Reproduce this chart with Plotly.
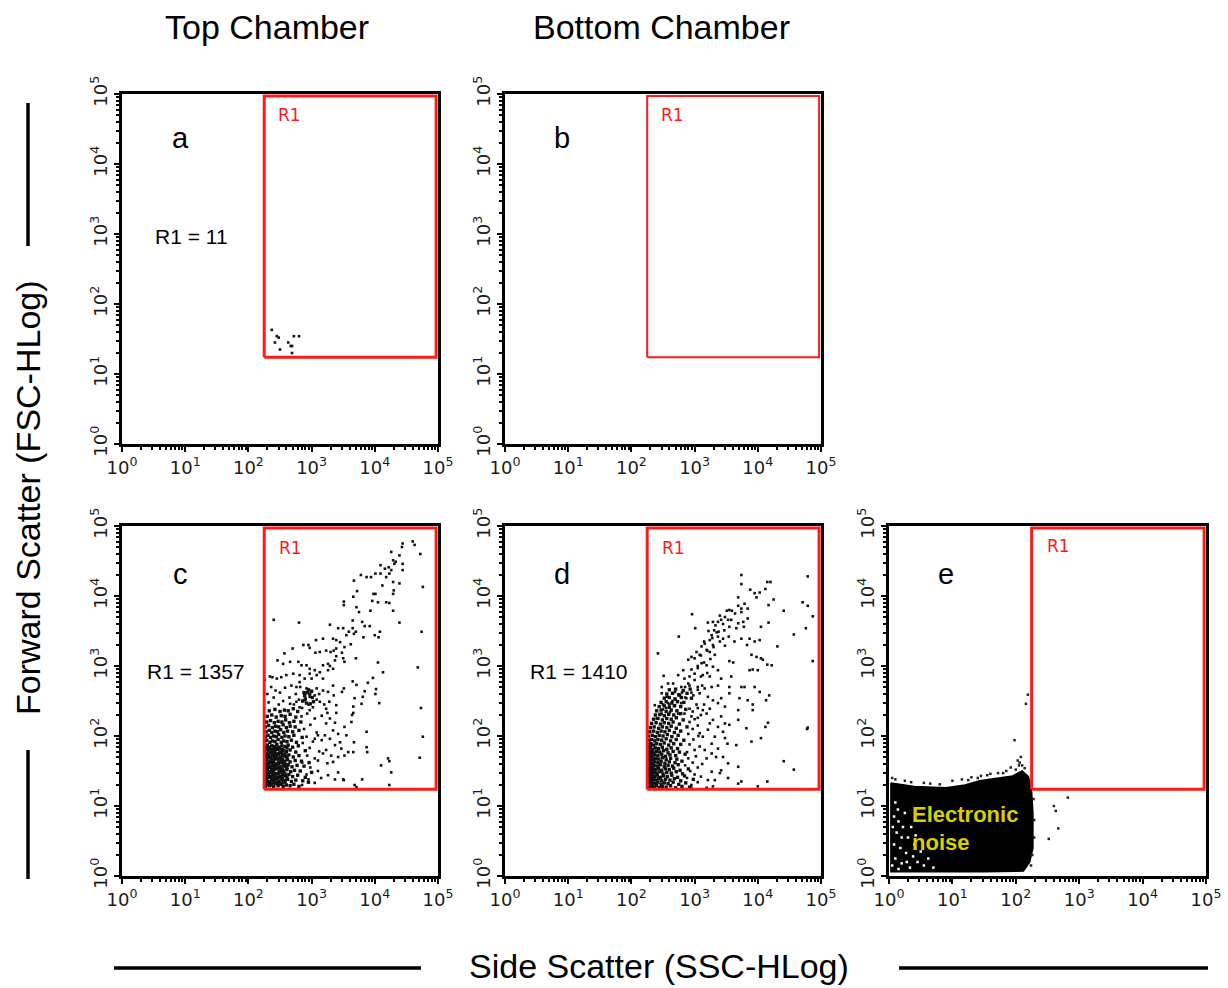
import plotly.graph_objects as go

W, H = 1228, 988

# ---------------- data (all values are log10 of the measured channel) ----------------
DECADES = [0, 1, 2, 3, 4, 5]
TICK_TEXT = ["10<sup>%d</sup>" % d for d in DECADES]
GATE_X = [2.25, 4.97]          # R1 gate, SSC
GATE_Y = [1.24, 4.97]          # R1 gate, FSC
PANELS = ["a", "b", "c", "d", "e"]
R1_COUNTS = {"a": "11", "c": "1357", "d": "1410"}
COL_TITLES = ["Top Chamber", "Bottom Chamber"]
Y_TITLE = "Forward Scatter (FSC-HLog)"
X_TITLE = "Side Scatter (SSC-HLog)"
NOISE_LABEL = ["Electronic", "noise"]

a_pts = [(2.37, 1.63), (2.45, 1.54), (2.48, 1.52), (2.42, 1.45), (2.50, 1.35), (2.63, 1.45),
         (2.67, 1.40), (2.69, 1.40), (2.69, 1.30), (2.72, 1.54), (2.80, 1.54)]

b_pts = []

c_sparse = [
    (4.60, 4.78), (4.63, 4.73), (4.44, 4.75), (4.43, 4.70), (4.26, 4.63), (4.39, 4.58), (4.72, 4.60),
    (4.33, 4.49), (4.31, 4.46), (4.29, 4.51), (4.44, 4.46), (4.22, 4.41), (4.09, 4.44), (4.16, 4.39),
    (4.26, 4.37), (4.23, 4.32), (4.44, 4.37), (4.01, 4.32), (3.78, 4.30), (3.87, 4.27), (3.94, 4.27),
    (4.09, 4.32), (4.18, 4.27), (4.29, 4.20), (4.39, 4.18), (4.12, 4.15), (3.67, 4.22), (4.76, 4.13),
    (3.72, 4.07), (4.01, 4.03), (3.98, 4.03), (4.30, 4.08), (4.29, 4.03), (3.51, 3.92), (3.96, 3.93),
    (4.05, 3.91), (4.18, 3.91), (4.23, 3.90), (3.51, 3.87), (3.66, 3.99), (3.93, 3.79), (4.29, 3.79),
    (3.71, 3.84), (3.75, 3.77), (2.40, 3.66), (2.80, 3.62), (3.65, 3.65), (3.80, 3.63), (3.29, 3.59),
    (4.39, 3.62), (3.42, 3.54), (3.50, 3.54), (3.65, 3.54), (3.84, 3.57), (3.92, 3.57), (4.74, 3.49),
    (4.08, 3.49), (4.00, 3.44), (4.06, 3.41), (3.34, 3.39), (3.39, 3.37), (3.55, 3.44), (3.59, 3.49),
    (3.70, 3.49), (3.67, 3.46), (3.07, 3.37), (3.18, 3.39), (3.45, 3.34), (3.82, 3.41), (2.95, 3.30),
    (2.97, 3.26), (2.70, 3.25), (2.87, 3.30), (3.23, 3.22), (3.35, 3.22), (3.39, 3.25), (3.52, 3.27),
    (3.62, 3.31), (3.06, 3.19), (3.13, 3.20), (3.30, 3.20), (3.48, 3.19), (2.57, 3.18), (3.39, 3.14),
    (3.50, 3.11), (3.52, 3.06), (3.70, 3.11), (2.46, 3.08), (2.66, 3.06), (2.79, 3.06), (3.37, 3.08),
    (3.26, 3.03), (2.55, 3.03), (2.84, 3.01), (2.92, 3.01), (3.18, 3.01), (3.29, 3.00), (4.68, 2.98),
    (4.05, 3.05), (4.13, 2.91), (2.97, 2.96), (3.05, 2.94), (3.13, 2.91), (3.26, 2.94), (3.34, 2.96),
    (2.38, 2.84), (2.45, 2.82), (2.34, 2.85), (2.52, 2.84), (2.60, 2.87), (2.71, 2.89), (2.81, 2.87),
    (2.97, 2.89), (3.08, 2.87), (3.97, 2.83), (2.68, 2.72), (2.81, 2.77), (2.89, 2.82), (3.00, 2.82),
    (3.18, 2.82), (3.34, 2.72), (3.71, 2.73), (3.65, 2.78), (3.89, 2.76), (4.02, 2.67), (3.84, 2.64),
    (4.01, 2.60), (2.43, 2.65), (2.58, 2.69), (2.76, 2.70), (2.92, 2.68), (3.08, 2.68), (3.18, 2.65),
    (3.26, 2.63), (3.48, 2.63), (3.05, 2.58), (2.97, 2.56), (2.89, 2.51), (3.13, 2.49), (3.28, 2.49),
    (3.35, 2.58), (3.51, 2.68), (3.81, 2.56), (3.79, 2.46), (4.07, 2.47), (3.68, 2.54), (3.66, 2.42),
    (3.39, 2.44), (4.73, 2.40), (2.66, 2.46), (2.76, 2.49), (2.81, 2.41), (3.02, 2.41), (3.23, 2.39),
    (2.97, 2.37), (3.66, 2.33), (3.64, 2.30), (3.39, 2.33), (3.16, 2.29), (3.29, 2.25), (3.37, 2.19),
    (3.63, 2.20), (3.23, 2.18), (3.52, 2.13), (3.87, 2.06), (3.34, 2.08), (3.42, 2.03), (3.21, 2.01),
    (3.10, 2.01), (3.05, 1.96), (3.16, 1.94), (3.29, 1.96), (3.45, 1.91), (3.67, 1.91), (3.55, 2.01),
    (4.76, 1.99), (3.87, 1.84), (3.88, 1.77), (3.37, 1.87), (3.23, 1.80), (3.47, 1.82), (3.58, 1.77),
    (3.66, 1.77), (3.31, 1.72), (3.18, 1.75), (3.42, 1.70), (3.52, 1.72), (4.71, 1.69), (4.21, 1.68),
    (4.23, 1.64), (3.34, 1.63), (3.25, 1.61), (3.10, 1.65), (4.10, 1.58), (4.26, 1.48), (3.42, 1.48),
    (3.50, 1.38), (3.37, 1.38), (3.26, 1.44), (3.80, 1.38), (3.51, 1.37), (3.68, 1.30), (4.23, 1.30),
    (3.71, 1.27),
    (2.85, 1.30), (2.95, 1.38), (3.05, 1.33), (2.92, 1.45), (3.10, 1.50), (2.98, 1.55), (3.15, 1.40),
    (2.85, 1.62), (3.05, 1.68), (2.93, 1.72), (3.12, 1.78), (2.97, 1.83), (2.86, 1.90), (3.02, 1.92),
    (2.92, 1.99), (3.08, 2.05), (2.88, 2.10), (2.98, 2.16), (2.84, 2.28), (2.93, 2.32), (3.05, 2.25),
    (2.72, 2.45), (2.80, 2.52), (2.65, 2.55), (2.75, 2.60), (2.82, 2.70), (3.08, 2.52), (3.12, 2.60),
    (2.55, 2.50), (2.48, 2.45), (2.40, 2.55), (2.32, 2.48), (2.30, 2.60), (2.36, 2.70), (2.26, 2.80),
    (2.50, 2.62), (3.20, 2.45), (3.25, 2.33), (2.85, 2.40), (2.95, 2.45)]

c_core = [
    (2.27, 1.28), (2.30, 1.31), (2.33, 1.29), (2.36, 1.30), (2.40, 1.28), (2.43, 1.32), (2.47, 1.29),
    (2.51, 1.31), (2.55, 1.28), (2.60, 1.30), (2.66, 1.29), (2.72, 1.31), (2.80, 1.28),
    (2.26, 1.36), (2.29, 1.38), (2.34, 1.35), (2.37, 1.37), (2.41, 1.36), (2.45, 1.39), (2.48, 1.35),
    (2.53, 1.37), (2.57, 1.36), (2.62, 1.38), (2.68, 1.35), (2.75, 1.37), (2.86, 1.36), (2.95, 1.34),
    (2.27, 1.43), (2.31, 1.45), (2.35, 1.42), (2.38, 1.44), (2.42, 1.43), (2.46, 1.46), (2.50, 1.42),
    (2.54, 1.44), (2.59, 1.43), (2.64, 1.45), (2.70, 1.42), (2.78, 1.44), (2.90, 1.41),
    (2.26, 1.50), (2.30, 1.52), (2.33, 1.49), (2.37, 1.51), (2.40, 1.50), (2.44, 1.53), (2.49, 1.49),
    (2.52, 1.51), (2.56, 1.50), (2.61, 1.52), (2.67, 1.49), (2.73, 1.51), (2.82, 1.50), (3.00, 1.48),
    (2.27, 1.57), (2.31, 1.59), (2.34, 1.56), (2.38, 1.58), (2.42, 1.57), (2.46, 1.60), (2.50, 1.56),
    (2.55, 1.58), (2.58, 1.57), (2.63, 1.59), (2.69, 1.56), (2.77, 1.58), (2.88, 1.57),
    (2.26, 1.64), (2.29, 1.66), (2.33, 1.63), (2.36, 1.65), (2.40, 1.64), (2.45, 1.67), (2.48, 1.63),
    (2.52, 1.65), (2.57, 1.64), (2.62, 1.66), (2.66, 1.63), (2.74, 1.65), (2.84, 1.64), (2.96, 1.62),
    (2.27, 1.71), (2.30, 1.73), (2.35, 1.70), (2.38, 1.72), (2.43, 1.71), (2.47, 1.74), (2.51, 1.70),
    (2.54, 1.72), (2.59, 1.71), (2.64, 1.73), (2.71, 1.70), (2.80, 1.72),
    (2.26, 1.78), (2.31, 1.80), (2.34, 1.77), (2.39, 1.79), (2.42, 1.78), (2.46, 1.81), (2.50, 1.77),
    (2.55, 1.79), (2.60, 1.78), (2.66, 1.80), (2.75, 1.77), (2.90, 1.79),
    (2.27, 1.85), (2.30, 1.87), (2.33, 1.84), (2.37, 1.86), (2.41, 1.85), (2.45, 1.88), (2.49, 1.84),
    (2.53, 1.86), (2.58, 1.85), (2.63, 1.87), (2.70, 1.84), (2.79, 1.86),
    (2.26, 1.92), (2.29, 1.94), (2.34, 1.91), (2.38, 1.93), (2.42, 1.92), (2.47, 1.95), (2.52, 1.91),
    (2.56, 1.93), (2.61, 1.92), (2.68, 1.94), (2.76, 1.91),
    (2.27, 1.99), (2.31, 2.01), (2.35, 1.98), (2.40, 2.00), (2.44, 1.99), (2.48, 2.02), (2.53, 1.98),
    (2.58, 2.00), (2.64, 1.99), (2.72, 2.01), (2.85, 1.98),
    (2.28, 2.06), (2.33, 2.08), (2.37, 2.05), (2.42, 2.07), (2.46, 2.06), (2.51, 2.09), (2.56, 2.05),
    (2.62, 2.07), (2.70, 2.06), (2.80, 2.08),
    (2.27, 2.13), (2.32, 2.15), (2.38, 2.12), (2.43, 2.14), (2.48, 2.13), (2.55, 2.16), (2.60, 2.12),
    (2.66, 2.14), (2.74, 2.13),
    (2.29, 2.20), (2.35, 2.22), (2.41, 2.19), (2.47, 2.21), (2.53, 2.20), (2.59, 2.23), (2.65, 2.19),
    (2.72, 2.21), (2.83, 2.20),
    (2.30, 2.28), (2.37, 2.30), (2.44, 2.27), (2.52, 2.29), (2.58, 2.28), (2.66, 2.31), (2.75, 2.27),
    (2.33, 2.36), (2.42, 2.38), (2.50, 2.35), (2.57, 2.37), (2.63, 2.36), (2.71, 2.39), (2.78, 2.35),
    (2.86, 2.50), (2.89, 2.58), (2.93, 2.62), (2.97, 2.60), (3.01, 2.55), (3.03, 2.49), (2.98, 2.46),
    (2.92, 2.47), (2.88, 2.62), (2.95, 2.66), (3.00, 2.64), (2.90, 2.53),
    (2.28, 1.33), (2.32, 1.34), (2.36, 1.32), (2.39, 1.33), (2.44, 1.34), (2.48, 1.33), (2.53, 1.32), (2.58, 1.34),
    (2.29, 1.40), (2.33, 1.41), (2.37, 1.39), (2.41, 1.40), (2.45, 1.41), (2.49, 1.40), (2.54, 1.39), (2.61, 1.41),
    (2.28, 1.47), (2.32, 1.46), (2.36, 1.48), (2.40, 1.47), (2.44, 1.46), (2.48, 1.47), (2.53, 1.48), (2.58, 1.46),
    (2.29, 1.54), (2.33, 1.55), (2.37, 1.53), (2.41, 1.54), (2.45, 1.55), (2.49, 1.54), (2.54, 1.53), (2.61, 1.55),
    (2.28, 1.61), (2.32, 1.60), (2.36, 1.62), (2.40, 1.61), (2.44, 1.60), (2.48, 1.61), (2.53, 1.62), (2.58, 1.60),
    (2.29, 1.68), (2.33, 1.69), (2.37, 1.67), (2.41, 1.68), (2.45, 1.69), (2.49, 1.68), (2.54, 1.67), (2.61, 1.69),
    (2.28, 1.75), (2.32, 1.74), (2.36, 1.76), (2.40, 1.75), (2.44, 1.74), (2.48, 1.75), (2.53, 1.76), (2.58, 1.74),
    (2.29, 1.82), (2.33, 1.83), (2.37, 1.81), (2.41, 1.82), (2.45, 1.83), (2.49, 1.82), (2.54, 1.81), (2.61, 1.83)]

d_sparse = [
    (3.74, 4.30), (3.74, 4.17), (4.79, 4.28), (4.15, 4.20), (4.20, 4.20), (4.12, 4.10), (3.88, 4.09),
    (3.95, 4.04), (4.03, 4.05), (3.69, 3.98), (3.98, 3.98), (3.79, 3.89), (3.74, 3.82), (3.69, 3.86),
    (3.84, 3.82), (3.51, 3.79), (3.59, 3.79), (3.64, 3.75), (3.74, 3.77), (3.48, 3.70), (3.53, 3.66),
    (3.58, 3.66), (3.42, 3.66), (3.37, 3.63), (3.29, 3.63), (3.21, 3.62), (3.69, 3.61), (3.77, 3.63),
    (3.84, 3.68), (2.96, 3.74), (4.17, 3.87), (4.25, 3.95), (4.41, 3.79), (4.71, 3.91), (4.79, 3.86),
    (4.87, 3.71), (4.17, 3.62), (4.76, 3.54), (4.57, 3.45), (3.01, 3.54), (2.75, 3.42), (3.31, 3.51),
    (3.38, 3.49), (3.47, 3.51), (3.55, 3.56), (3.66, 3.54), (3.78, 3.56), (4.05, 3.56), (3.27, 3.44),
    (3.37, 3.42), (3.45, 3.39), (3.54, 3.42), (3.24, 3.37), (3.16, 3.32), (3.29, 3.30), (3.40, 3.35),
    (3.48, 3.29), (3.63, 3.35), (3.74, 3.39), (3.87, 3.39), (3.95, 3.35), (4.03, 3.37), (3.83, 3.30),
    (4.31, 3.28), (2.42, 3.18), (3.11, 3.28), (3.19, 3.23), (3.03, 3.20), (2.95, 3.13), (2.90, 3.09),
    (3.00, 3.11), (3.08, 3.16), (3.24, 3.20), (3.32, 3.16), (3.55, 3.07), (3.61, 3.05), (3.90, 3.16),
    (3.98, 3.13), (4.05, 3.11), (4.08, 3.09), (4.15, 3.02), (4.22, 3.01), (4.87, 3.07), (3.11, 3.04),
    (3.19, 3.01), (3.29, 2.99), (3.37, 2.94), (3.05, 2.97), (2.82, 2.94), (2.74, 2.87), (2.84, 2.82),
    (2.92, 2.85), (3.00, 2.89), (3.13, 2.87), (3.24, 2.85), (3.42, 2.82), (3.58, 2.85), (3.87, 2.94),
    (3.92, 2.95), (4.00, 2.94), (2.51, 2.86), (2.58, 2.75), (2.66, 2.75), (2.79, 2.70), (2.48, 2.70),
    (2.92, 2.72), (3.05, 2.70), (3.16, 2.68), (3.27, 2.70), (3.37, 2.72), (3.55, 2.70), (3.74, 2.70),
    (3.79, 2.70), (3.95, 2.70), (4.03, 2.63), (4.18, 2.58), (2.48, 2.61), (2.56, 2.56), (2.69, 2.63),
    (2.77, 2.58), (2.87, 2.54), (2.98, 2.58), (3.08, 2.61), (3.21, 2.56), (3.29, 2.51), (3.42, 2.54),
    (3.55, 2.61), (3.71, 2.54), (3.84, 2.51), (3.92, 2.45), (4.13, 2.51), (2.37, 2.44), (2.50, 2.45),
    (2.58, 2.47), (2.69, 2.44), (2.79, 2.47), (2.92, 2.39), (3.03, 2.45), (3.13, 2.37), (3.24, 2.39),
    (3.37, 2.47), (3.48, 2.42), (3.69, 2.37), (3.92, 2.37), (4.16, 2.19), (4.12, 2.13), (4.79, 2.12),
    (4.78, 2.10), (2.48, 2.32), (2.61, 2.34), (2.74, 2.32), (2.84, 2.32), (2.95, 2.28), (3.05, 2.26),
    (3.19, 2.32), (3.29, 2.23), (3.42, 2.28), (3.69, 2.23), (3.82, 2.11), (3.24, 2.18), (3.37, 2.13),
    (3.48, 2.18), (3.55, 2.16), (3.21, 2.09), (3.08, 2.04), (3.13, 1.99), (3.32, 1.99), (3.45, 2.06),
    (3.48, 1.97), (3.52, 1.89), (3.66, 1.87), (3.90, 1.92), (4.05, 1.97), (3.27, 1.89), (3.37, 1.82),
    (3.16, 1.80), (3.27, 1.75), (3.34, 1.70), (3.19, 1.68), (3.45, 1.70), (3.53, 1.61), (3.69, 1.56),
    (3.42, 1.51), (3.27, 1.49), (3.40, 1.47), (3.21, 1.37), (3.32, 1.37), (3.29, 1.28), (3.53, 1.40),
    (3.69, 1.32), (3.74, 1.35), (4.00, 1.28), (4.15, 1.35), (4.41, 1.64), (4.57, 1.52), (3.19, 1.26),
    (2.95, 1.26),
    (2.95, 1.30), (3.05, 1.34), (2.88, 1.40), (3.00, 1.45), (3.10, 1.42), (2.93, 1.50), (3.05, 1.55),
    (2.85, 1.58), (2.97, 1.62), (3.12, 1.60), (2.90, 1.68), (3.02, 1.71), (2.88, 1.77), (3.00, 1.80),
    (3.08, 1.85), (2.92, 1.88), (2.98, 1.95), (3.06, 2.00), (2.90, 2.03), (2.97, 2.10), (3.05, 2.15),
    (2.92, 2.20), (3.00, 2.24), (3.10, 2.30), (2.97, 2.35), (3.05, 2.40), (3.15, 2.45), (2.85, 2.55),
    (2.95, 2.62), (3.05, 2.66), (3.12, 2.72), (2.90, 2.75), (3.00, 2.80), (3.10, 2.85), (3.20, 2.90),
    (2.95, 2.95), (3.05, 3.00), (3.15, 3.05), (3.25, 3.10), (3.10, 3.15), (3.20, 3.22), (3.30, 3.27),
    (3.15, 3.35), (3.28, 3.40), (3.35, 3.48), (3.22, 3.50), (3.33, 3.58), (3.45, 3.60), (3.40, 3.72),
    (3.55, 3.80), (2.80, 2.62), (2.85, 2.70), (2.70, 2.52), (2.75, 2.58), (2.65, 2.50), (2.60, 2.45),
    (2.55, 2.40), (2.50, 2.38), (2.45, 2.30), (2.40, 2.25)]

d_core = [
    (2.26, 1.27), (2.28, 1.29), (2.30, 1.26), (2.33, 1.28), (2.36, 1.27), (2.40, 1.29), (2.44, 1.26),
    (2.49, 1.28), (2.55, 1.27), (2.62, 1.29), (2.70, 1.26), (2.80, 1.28), (2.92, 1.27),
    (2.26, 1.32), (2.29, 1.33), (2.31, 1.31), (2.34, 1.33), (2.38, 1.32), (2.42, 1.34), (2.47, 1.31),
    (2.52, 1.33), (2.58, 1.32), (2.66, 1.34), (2.75, 1.31), (2.86, 1.33),
    (2.27, 1.37), (2.29, 1.38), (2.32, 1.36), (2.35, 1.38), (2.39, 1.37), (2.43, 1.39), (2.48, 1.36),
    (2.54, 1.38), (2.61, 1.37), (2.68, 1.39), (2.78, 1.36), (2.98, 1.38),
    (2.26, 1.42), (2.28, 1.43), (2.31, 1.41), (2.34, 1.43), (2.37, 1.42), (2.41, 1.44), (2.46, 1.41),
    (2.51, 1.43), (2.57, 1.42), (2.64, 1.44), (2.73, 1.41), (2.84, 1.43),
    (2.27, 1.47), (2.30, 1.48), (2.33, 1.46), (2.36, 1.48), (2.40, 1.47), (2.45, 1.49), (2.50, 1.46),
    (2.56, 1.48), (2.63, 1.47), (2.71, 1.49), (2.81, 1.46),
    (2.26, 1.52), (2.28, 1.53), (2.31, 1.51), (2.35, 1.53), (2.39, 1.52), (2.43, 1.54), (2.48, 1.51),
    (2.54, 1.53), (2.60, 1.52), (2.67, 1.54), (2.77, 1.51), (2.90, 1.53),
    (2.27, 1.57), (2.29, 1.58), (2.32, 1.56), (2.36, 1.58), (2.41, 1.57), (2.46, 1.59), (2.52, 1.56),
    (2.58, 1.58), (2.65, 1.57), (2.74, 1.59),
    (2.26, 1.62), (2.30, 1.63), (2.33, 1.61), (2.37, 1.63), (2.42, 1.62), (2.47, 1.64), (2.53, 1.61),
    (2.60, 1.63), (2.69, 1.62), (2.80, 1.64),
    (2.27, 1.67), (2.29, 1.68), (2.34, 1.66), (2.38, 1.68), (2.43, 1.67), (2.49, 1.69), (2.55, 1.66),
    (2.62, 1.68), (2.72, 1.67),
    (2.26, 1.72), (2.30, 1.73), (2.33, 1.71), (2.37, 1.73), (2.42, 1.72), (2.48, 1.74), (2.54, 1.71),
    (2.61, 1.73), (2.70, 1.72), (2.85, 1.74),
    (2.27, 1.77), (2.31, 1.78), (2.35, 1.76), (2.40, 1.78), (2.45, 1.77), (2.51, 1.79), (2.58, 1.76),
    (2.66, 1.78), (2.76, 1.77),
    (2.26, 1.82), (2.29, 1.83), (2.34, 1.81), (2.38, 1.83), (2.43, 1.82), (2.49, 1.84), (2.56, 1.81),
    (2.63, 1.83), (2.73, 1.82),
    (2.27, 1.88), (2.31, 1.89), (2.35, 1.87), (2.40, 1.89), (2.46, 1.88), (2.52, 1.90), (2.59, 1.87),
    (2.67, 1.89), (2.78, 1.88),
    (2.28, 1.94), (2.32, 1.95), (2.37, 1.93), (2.42, 1.95), (2.48, 1.94), (2.55, 1.96), (2.62, 1.93),
    (2.71, 1.95), (2.83, 1.94),
    (2.27, 2.00), (2.33, 2.01), (2.38, 1.99), (2.44, 2.01), (2.50, 2.00), (2.57, 2.02), (2.64, 1.99),
    (2.74, 2.01),
    (2.29, 2.06), (2.35, 2.07), (2.41, 2.05), (2.47, 2.07), (2.53, 2.06), (2.60, 2.08), (2.68, 2.05),
    (2.78, 2.07),
    (2.30, 2.12), (2.36, 2.13), (2.43, 2.11), (2.49, 2.13), (2.56, 2.12), (2.63, 2.14), (2.71, 2.11),
    (2.88, 2.13),
    (2.32, 2.18), (2.39, 2.19), (2.46, 2.17), (2.52, 2.19), (2.59, 2.18), (2.66, 2.20), (2.76, 2.17),
    (2.35, 2.24), (2.42, 2.25), (2.49, 2.23), (2.56, 2.25), (2.63, 2.24), (2.71, 2.26), (2.82, 2.23),
    (2.38, 2.30), (2.45, 2.31), (2.52, 2.29), (2.59, 2.31), (2.67, 2.30), (2.78, 2.32),
    (2.40, 2.36), (2.47, 2.37), (2.55, 2.35), (2.63, 2.37), (2.72, 2.36), (2.86, 2.38),
    (2.44, 2.42), (2.52, 2.43), (2.60, 2.41), (2.68, 2.43), (2.78, 2.42),
    (2.47, 2.48), (2.55, 2.49), (2.64, 2.47), (2.73, 2.49), (2.83, 2.48),
    (2.52, 2.54), (2.60, 2.55), (2.69, 2.53), (2.79, 2.55), (2.95, 2.54),
    (2.56, 2.60), (2.65, 2.61), (2.75, 2.59), (2.88, 2.61),
    (2.60, 2.66), (2.70, 2.67), (2.82, 2.65), (2.93, 2.67),
    (2.27, 1.29), (2.29, 1.30), (2.31, 1.28), (2.27, 1.34), (2.30, 1.35), (2.32, 1.33), (2.28, 1.39),
    (2.30, 1.40), (2.33, 1.39), (2.27, 1.44), (2.29, 1.45), (2.32, 1.44), (2.28, 1.49), (2.31, 1.50),
    (2.33, 1.49), (2.27, 1.54), (2.30, 1.55), (2.32, 1.54), (2.28, 1.59), (2.31, 1.60), (2.27, 1.64),
    (2.30, 1.66), (2.28, 1.70), (2.31, 1.75), (2.28, 1.80), (2.30, 1.85)]

# electronic-noise cloud of panel e: outline of the saturated region, edge events, gaps
e_outline = [(0.03, 1.33), (0.40, 1.28), (0.90, 1.26), (1.20, 1.30), (1.43, 1.36), (1.70, 1.40),
             (1.95, 1.43), (2.10, 1.50), (2.20, 1.42), (2.25, 1.20), (2.27, 0.90), (2.27, 0.40),
             (2.22, 0.20), (2.12, 0.07), (1.50, 0.06), (0.80, 0.06), (0.03, 0.06), (0.03, 1.33)]
e_edge = [(2.19, 2.59), (2.16, 2.46), (1.98, 1.94), (2.03, 1.65), (2.06, 1.62), (2.10, 1.58),
          (2.08, 1.70), (2.82, 1.12), (2.60, 1.00), (2.63, 0.93), (2.67, 0.68), (2.52, 0.53),
          (0.10, 1.38), (0.35, 1.34), (0.55, 1.33), (0.80, 1.31), (1.00, 1.36), (1.15, 1.38),
          (1.30, 1.41), (1.45, 1.43), (1.60, 1.46), (1.72, 1.47), (1.85, 1.50), (1.92, 1.55),
          (2.00, 1.52), (2.14, 1.54), (2.22, 1.35), (2.28, 1.10), (2.29, 0.80), (2.29, 0.55),
          (2.26, 0.30), (2.24, 0.15), (0.25, 1.36), (0.65, 1.32), (1.25, 1.37), (1.55, 1.44),
          (1.80, 1.47), (0.05, 1.40), (1.40, 1.40), (2.05, 1.58)]
e_gaps = [(0.08, 0.85), (0.15, 0.78), (0.12, 0.62), (0.22, 0.70), (0.30, 0.55), (0.08, 0.45),
          (0.18, 0.40), (0.27, 0.33), (0.38, 0.28), (0.10, 0.25), (0.20, 0.18), (0.33, 0.12),
          (0.45, 0.20), (0.55, 0.15), (0.62, 0.25), (0.50, 0.35), (0.40, 0.45), (0.14, 0.95),
          (0.06, 0.70), (0.25, 0.90), (0.70, 0.12), (0.35, 0.70), (0.05, 0.15), (0.15, 0.10),
          (0.42, 0.58), (0.10, 1.05), (0.20, 0.55), (0.28, 0.20)]

# ---------------- layout geometry (pixels) ----------------
COLS = [(122, 438), (505, 821), (889, 1206)]
ROWS = [(94, 444), (526, 876)]
GRID = {"a": (0, 0), "b": (1, 0), "c": (0, 1), "d": (1, 1), "e": (2, 1)}
LETTER_POS = {"a": (180, 138), "b": (562, 138), "c": (180, 574), "d": (562, 574), "e": (946, 574)}
COUNT_POS = {"a": (192, 237), "c": (196, 671), "d": (579, 671)}
R1_LABEL_POS = {"a": (289, 115), "b": (672, 115), "c": (290, 548), "d": (673, 548), "e": (1058, 546)}
GATE_WIDTH = {"a": 3, "b": 2, "c": 3, "d": 3, "e": 3}


def px(x):
    return x / W


def py(y):
    return 1 - y / H


def lin(vals):
    return [10 ** v for v in vals]


ARIAL = "Liberation Sans, Arial, sans-serif"
DEJAVU = "DejaVu Sans, Verdana, sans-serif"

fig = go.Figure()
layout = dict(template="none", width=W, height=H, autosize=False,
              margin=dict(l=0, r=0, t=0, b=0, pad=0),
              paper_bgcolor="white", plot_bgcolor="white", showlegend=False)

axis_common = dict(type="log", range=[0, 5], showgrid=False, zeroline=False, automargin=False,
                   showline=True, linecolor="black", linewidth=3, mirror=True,
                   ticks="outside", ticklen=5, tickwidth=2, tickcolor="black",
                   tickmode="array", tickvals=lin(DECADES), ticktext=TICK_TEXT,
                   tickfont=dict(family=DEJAVU, size=18, color="#1a1a1a"),
                   minor=dict(ticks="outside", ticklen=3, tickwidth=1.5, tickcolor="black",
                              dtick="D1", showgrid=False))

panel_data = {"a": [a_pts], "b": [b_pts], "c": [c_core, c_sparse], "d": [d_core, d_sparse], "e": []}


def text_ann(text, x, y, size, family=ARIAL, color="black", **kw):
    d = dict(text=text, x=px(x), y=py(y), xref="paper", yref="paper", showarrow=False,
             xanchor="center", yanchor="middle", font=dict(family=family, size=size, color=color))
    d.update(kw)
    return d


annotations = []
shapes = []
for i, p in enumerate(PANELS):
    n = "" if i == 0 else str(i + 1)
    ci, ri = GRID[p]
    x0, x1 = COLS[ci]
    y0, y1 = ROWS[ri]
    layout["xaxis" + n] = dict(axis_common, domain=[px(x0), px(x1)], anchor="y" + n)
    layout["yaxis" + n] = dict(axis_common, domain=[py(y1), py(y0)], anchor="x" + n, tickangle=-90)
    xr, yr = "x" + n, "y" + n

    if p == "e":
        ox, oy = zip(*e_outline)
        fig.add_trace(go.Scatter(x=lin(ox), y=lin(oy), mode="lines", fill="toself",
                                 fillcolor="black", line=dict(color="black", width=1.5),
                                 xaxis=xr, yaxis=yr, hoverinfo="skip"))
        gx, gy = zip(*e_gaps)
        fig.add_trace(go.Scatter(x=lin(gx), y=lin(gy), mode="markers",
                                 marker=dict(color="white", size=2.5, symbol="square"),
                                 xaxis=xr, yaxis=yr))
        ex, ey = zip(*e_edge)
        fig.add_trace(go.Scatter(x=lin(ex), y=lin(ey), mode="markers",
                                 marker=dict(color="#222222", size=2.5, symbol="square"),
                                 xaxis=xr, yaxis=yr))
    else:
        for k, pts in enumerate(panel_data[p]):
            if not pts:
                continue
            xs, ys = zip(*pts)
            size = 3.4 if (len(panel_data[p]) == 2 and k == 0) else 2.6
            fig.add_trace(go.Scatter(x=lin(xs), y=lin(ys), mode="markers",
                                     marker=dict(color="#111111", size=size, symbol="square",
                                                 line=dict(width=0)),
                                     xaxis=xr, yaxis=yr))

    gx = [GATE_X[0], GATE_X[1], GATE_X[1], GATE_X[0], GATE_X[0]]
    gy = [GATE_Y[0], GATE_Y[0], GATE_Y[1], GATE_Y[1], GATE_Y[0]]
    fig.add_trace(go.Scatter(x=lin(gx), y=lin(gy), mode="lines",
                             line=dict(color="#ff1a1a", width=GATE_WIDTH[p]),
                             xaxis=xr, yaxis=yr, cliponaxis=False))

    lx, ly = LETTER_POS[p]
    annotations.append(text_ann(p, lx, ly, 29))
    rx, ry = R1_LABEL_POS[p]
    annotations.append(text_ann("R1", rx, ry, 17, family=DEJAVU, color="#ff1a1a"))
    if p in R1_COUNTS:
        cx, cy = COUNT_POS[p]
        annotations.append(text_ann("R1 = " + R1_COUNTS[p], cx, cy, 21))

# noise label
for txt, yy in zip(NOISE_LABEL, [814, 842]):
    annotations.append(text_ann("<b>%s</b>" % txt, 910, yy, 22, color="#d8cf00", xanchor="left"))

# column titles
for t, cx in zip(COL_TITLES, [267, 661]):
    annotations.append(text_ann(t, cx, 27, 34))

# axis titles
annotations.append(text_ann(Y_TITLE, 28, 498, 34, textangle=-90))
annotations.append(text_ann(X_TITLE, 659, 966, 34))

line_style = dict(color="black", width=3.5)
for (a0, a1) in [(103, 246), (750, 879)]:
    shapes.append(dict(type="line", xref="paper", yref="paper", x0=px(28), x1=px(28),
                       y0=py(a0), y1=py(a1), line=line_style))
for (a0, a1) in [(114, 421), (899, 1208)]:
    shapes.append(dict(type="line", xref="paper", yref="paper", x0=px(a0), x1=px(a1),
                       y0=py(968), y1=py(968), line=line_style))

layout["annotations"] = annotations
layout["shapes"] = shapes
fig.update_layout(**layout)
fig.write_html("out.html", config={"displayModeBar": False},
               post_script="document.body.style.margin='0';document.body.style.padding='0';")
